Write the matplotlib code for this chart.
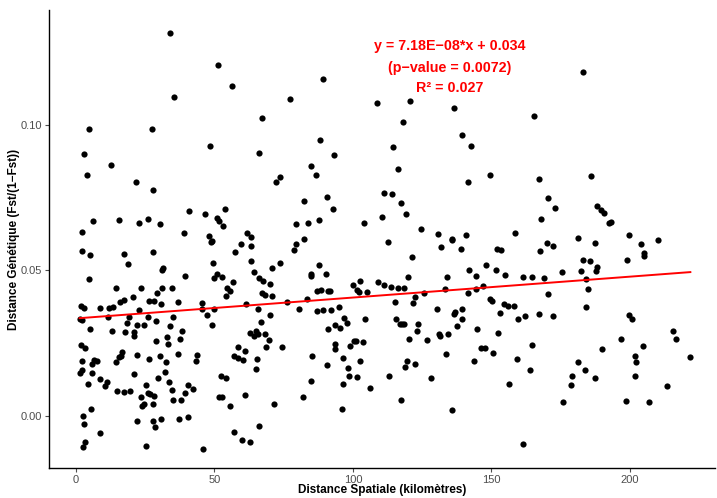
import matplotlib
matplotlib.use("Agg")
import matplotlib.pyplot as plt
import numpy as np

plt.rcParams['font.family'] = ['Liberation Sans', 'DejaVu Sans']

# Points (distance km, genetic distance) grouped by distance band
pts_a = [
    (33.9, 0.1315), (35.4, 0.1097), (4.8, 0.0986), (27.5, 0.0986), (48.3, 0.0926), (2.8, 0.0899),
    (12.5, 0.0861), (3.9, 0.0828), (21.7, 0.0805), (27.7, 0.0776), (40.7, 0.0703), (46.6, 0.0695),
    (6.0, 0.0670), (15.5, 0.0674), (22.6, 0.0662), (26.1, 0.0678), (30.3, 0.0661), (2.2, 0.0633),
    (39.0, 0.0630), (48.1, 0.0620), (48.6, 0.0596), (49.1, 0.0601), (2.3, 0.0566), (5.1, 0.0552),
    (17.4, 0.0556), (27.7, 0.0563), (18.9, 0.0522), (49.6, 0.0525), (30.9, 0.0502), (31.5, 0.0509),
    (39.2, 0.0480), (49.9, 0.0473), (4.8, 0.0472), (14.3, 0.0440), (23.5, 0.0441), (31.0, 0.0441),
    (34.8, 0.0441), (29.1, 0.0424), (15.9, 0.0393), (17.3, 0.0399), (20.6, 0.0408), (26.2, 0.0394),
    (28.0, 0.0394), (30.8, 0.0383), (36.7, 0.0393), (45.5, 0.0389), (1.7, 0.0378), (2.9, 0.0371),
    (8.7, 0.0371), (11.8, 0.0370), (13.5, 0.0376), (45.5, 0.0369), (49.8, 0.0369), (22.9, 0.0363),
    (11.4, 0.0341), (19.3, 0.0341), (25.9, 0.0339), (35.1, 0.0341), (47.4, 0.0347), (1.3, 0.0332),
    (2.1, 0.0328), (28.9, 0.0326), (18.4, 0.0320), (22.1, 0.0312), (24.7, 0.0314), (33.9, 0.0310),
    (49.2, 0.0312), (5.1, 0.0298), (13.1, 0.0291), (17.8, 0.0288), (20.8, 0.0288), (20.8, 0.0275),
    (38.4, 0.0291), (37.4, 0.0264), (32.7, 0.0270), (33.1, 0.0248), (29.0, 0.0259), (1.7, 0.0245),
    (3.1, 0.0234), (16.7, 0.0218), (16.1, 0.0206), (15.6, 0.0202), (22.0, 0.0209), (30.4, 0.0206),
    (36.7, 0.0212), (43.6, 0.0210), (43.2, 0.0190), (2.1, 0.0190), (6.6, 0.0192), (7.6, 0.0188),
    (5.8, 0.0178), (14.3, 0.0186), (26.4, 0.0196), (32.4, 0.0186), (1.3, 0.0149), (2.3, 0.0158),
    (5.9, 0.0147), (21.0, 0.0143), (32.0, 0.0152), (8.7, 0.0128), (11.1, 0.0118), (10.6, 0.0103),
    (4.3, 0.0109), (29.6, 0.0132), (33.7, 0.0115), (25.2, 0.0106), (40.4, 0.0107), (34.8, 0.0089),
    (42.3, 0.0093), (14.7, 0.0086), (17.2, 0.0082), (19.6, 0.0087), (26.0, 0.0078), (26.8, 0.0075),
    (28.2, 0.0068), (23.6, 0.0065), (39.2, 0.0078), (35.1, 0.0054), (37.9, 0.0055), (23.7, 0.0034),
    (24.4, 0.0040), (27.9, 0.0041), (5.4, 0.0025), (2.6, -0.0002), (3.0, -0.0029), (21.9, -0.0018),
    (27.8, -0.0017), (28.5, -0.0038), (30.7, -0.0011), (37.3, -0.0011), (40.5, -0.0003), (8.7, -0.0059),
    (3.1, -0.0089), (2.4, -0.0107), (25.4, -0.0104), (45.8, -0.0114),
]

pts_b = [
    (51.4, 0.1206), (56.3, 0.1135), (89.2, 0.1157), (77.3, 0.1089), (67.1, 0.1025), (66.0, 0.0905),
    (88.2, 0.0947), (93.0, 0.0895), (84.9, 0.0860), (86.6, 0.0828), (72.1, 0.0803), (73.8, 0.0821),
    (82.2, 0.0739), (90.5, 0.0751), (92.7, 0.0710), (53.8, 0.0712), (50.8, 0.0679), (51.8, 0.0670),
    (53.0, 0.0653), (79.3, 0.0661), (83.6, 0.0664), (87.8, 0.0674), (103.9, 0.0662), (61.6, 0.0628),
    (63.2, 0.0616), (82.3, 0.0607), (59.6, 0.0591), (63.2, 0.0584), (57.3, 0.0565), (78.7, 0.0570),
    (79.5, 0.0591), (63.1, 0.0533), (73.5, 0.0527), (70.9, 0.0510), (87.6, 0.0520), (64.4, 0.0496),
    (90.1, 0.0489), (84.9, 0.0489), (84.7, 0.0482), (51.0, 0.0486), (52.6, 0.0479), (56.7, 0.0460),
    (66.0, 0.0473), (67.4, 0.0462), (70.0, 0.0454), (100.0, 0.0450), (102.4, 0.0465), (101.4, 0.0433),
    (102.1, 0.0426), (104.9, 0.0426), (54.4, 0.0438), (55.6, 0.0430), (54.2, 0.0411), (67.1, 0.0422),
    (68.3, 0.0415), (70.6, 0.0411), (87.1, 0.0428), (88.3, 0.0432), (90.9, 0.0430), (91.6, 0.0430),
    (61.4, 0.0384), (76.2, 0.0392), (83.3, 0.0402), (65.6, 0.0368), (80.6, 0.0369), (87.1, 0.0360),
    (89.2, 0.0364), (91.9, 0.0364), (94.8, 0.0376), (70.1, 0.0347), (96.8, 0.0336), (98.0, 0.0320),
    (104.4, 0.0333), (66.9, 0.0322), (93.6, 0.0313), (95.2, 0.0303), (90.9, 0.0298), (62.9, 0.0285),
    (65.1, 0.0293), (64.2, 0.0273), (65.8, 0.0281), (68.2, 0.0282), (69.6, 0.0260), (68.5, 0.0236),
    (74.3, 0.0238), (58.6, 0.0236), (61.1, 0.0222), (56.9, 0.0206), (58.5, 0.0198), (60.3, 0.0192),
    (65.4, 0.0197), (64.9, 0.0160), (85.2, 0.0206), (93.6, 0.0247), (93.4, 0.0229), (99.0, 0.0241),
    (100.5, 0.0257), (101.0, 0.0258), (103.6, 0.0254), (96.3, 0.0198), (90.7, 0.0176), (102.6, 0.0190),
    (98.2, 0.0163), (98.6, 0.0137), (101.3, 0.0135), (52.3, 0.0137), (54.0, 0.0132), (84.8, 0.0121),
    (96.5, 0.0110), (106.0, 0.0095), (61.1, 0.0073), (51.5, 0.0064), (52.6, 0.0064), (82.1, 0.0064),
    (55.7, 0.0034), (71.5, 0.0042), (95.9, 0.0023), (66.1, -0.0035), (56.9, -0.0054), (60.0, -0.0082),
    (62.9, -0.0089),
]

pts_c = [
    (108.5, 0.1075), (120.5, 0.1082), (136.5, 0.1057), (165.5, 0.1032), (118.2, 0.1009), (139.5, 0.0966),
    (142.5, 0.0928), (114.6, 0.0923), (116.1, 0.0849), (149.6, 0.0827), (141.4, 0.0803), (111.1, 0.0767),
    (114.1, 0.0763), (117.3, 0.0733), (119.1, 0.0695), (110.4, 0.0682), (124.4, 0.0643), (130.8, 0.0625),
    (135.7, 0.0607), (140.9, 0.0621), (158.5, 0.0627), (112.7, 0.0597), (131.8, 0.0580), (135.9, 0.0605),
    (138.9, 0.0575), (151.9, 0.0573), (153.3, 0.0570), (121.4, 0.0545), (148.1, 0.0518), (141.9, 0.0503),
    (151.5, 0.0503), (119.7, 0.0479), (134.0, 0.0479), (144.5, 0.0481), (155.0, 0.0483), (161.5, 0.0478),
    (164.6, 0.0478), (108.9, 0.0459), (111.3, 0.0449), (113.6, 0.0443), (116.4, 0.0439), (118.3, 0.0440),
    (133.2, 0.0437), (144.4, 0.0435), (146.8, 0.0447), (125.5, 0.0423), (141.6, 0.0422), (115.3, 0.0391),
    (122.3, 0.0408), (121.6, 0.0387), (149.5, 0.0403), (150.1, 0.0396), (154.5, 0.0384), (156.1, 0.0378),
    (158.2, 0.0378), (130.3, 0.0368), (136.8, 0.0356), (136.6, 0.0351), (139.2, 0.0367), (153.1, 0.0353),
    (162.1, 0.0345), (159.5, 0.0332), (115.6, 0.0332), (117.0, 0.0317), (117.7, 0.0317), (118.5, 0.0317),
    (123.5, 0.0317), (139.5, 0.0334), (137.7, 0.0309), (123.1, 0.0291), (144.9, 0.0300), (152.3, 0.0286),
    (131.0, 0.0281), (131.4, 0.0273), (134.2, 0.0281), (120.1, 0.0264), (126.6, 0.0262), (164.6, 0.0243),
    (146.3, 0.0233), (147.7, 0.0233), (133.6, 0.0213), (150.5, 0.0216), (159.3, 0.0196), (119.5, 0.0190),
    (118.9, 0.0167), (122.4, 0.0179), (143.8, 0.0189), (164.0, 0.0157), (112.9, 0.0136), (128.3, 0.0132),
    (156.3, 0.0110), (117.3, 0.0053), (135.9, 0.0020), (161.3, -0.0097),
]

pts_d = [
    (183.0, 0.1182), (167.1, 0.0813), (186.0, 0.0826), (170.5, 0.0750), (172.8, 0.0715), (167.9, 0.0676),
    (188.2, 0.0722), (189.5, 0.0709), (190.7, 0.0698), (192.4, 0.0662), (193.3, 0.0667), (199.6, 0.0621),
    (181.2, 0.0613), (210.2, 0.0604), (169.9, 0.0593), (172.3, 0.0583), (167.4, 0.0567), (187.3, 0.0593),
    (204.0, 0.0590), (205.2, 0.0559), (205.1, 0.0551), (183.1, 0.0537), (185.6, 0.0532), (198.8, 0.0537),
    (188.1, 0.0513), (187.6, 0.0498), (175.3, 0.0496), (182.3, 0.0497), (168.9, 0.0473), (184.2, 0.0470),
    (184.9, 0.0435), (170.4, 0.0420), (184.2, 0.0374), (167.3, 0.0351), (172.3, 0.0343), (199.8, 0.0346),
    (200.6, 0.0333), (215.4, 0.0291), (216.5, 0.0265), (196.9, 0.0266), (189.9, 0.0230), (204.7, 0.0240),
    (221.8, 0.0204), (201.9, 0.0205), (202.0, 0.0186), (181.2, 0.0185), (183.8, 0.0158), (179.2, 0.0137),
    (187.4, 0.0130), (201.7, 0.0136), (178.6, 0.0107), (213.4, 0.0103), (175.9, 0.0047), (198.7, 0.0052),
    (207.0, 0.0048),
]

# Regression (x in km; equation in the chart is per metre)
fit_intercept = 0.0335
fit_slope_per_m = 7.18e-08
eq_lines = ["y = 7.18E\u221208*x + 0.034", "(p\u2212value = 0.0072)", "R\u00b2 = 0.027"]

x_ticks = [0, 50, 100, 150, 200]
y_ticks = [0.00, 0.05, 0.10]
y_tick_labels = ["0.00", "0.05", "0.10"]

pts = np.array(pts_a + pts_b + pts_c + pts_d)
xs, ys = pts[:, 0], pts[:, 1]

W, H = 717, 498
fig = plt.figure(figsize=(W / 100, H / 100), dpi=100)
ax = fig.add_axes([49 / W, 30 / H, 666 / W, 458 / H])

ax.scatter(xs, ys, s=20, color='black', linewidths=0, zorder=2)

xl = np.array([xs.min(), xs.max()])
ax.plot(xl, fit_intercept + fit_slope_per_m * 1000 * xl, color='red', lw=1.4, zorder=3)

ax.set_xlim(-9.75, 230.7)
ax.set_ylim(-0.0179, 0.1395)

ax.set_xticks(x_ticks)
ax.set_yticks(y_ticks)
ax.set_yticklabels(y_tick_labels)
ax.tick_params(axis='both', colors='#4d4d4d', labelcolor='#4d4d4d', labelsize=8, length=3, width=0.8, pad=2)

for side in ['top', 'right']:
    ax.spines[side].set_visible(False)
for side in ['left', 'bottom']:
    ax.spines[side].set_color('black')
    ax.spines[side].set_linewidth(1.0)

ax.set_xlabel("Distance Spatiale (kilom\u00e8tres)", fontsize=8.5, fontweight='bold')
ax.set_ylabel("Distance G\u00e9n\u00e9tique (Fst/(1\u2212Fst))", fontsize=8.5, fontweight='bold',
              va='center', ha='center')
ax.xaxis.set_label_coords(0.5, -0.036)
ax.yaxis.set_label_coords(-0.053, 0.5)

eq_y = [0.1271, 0.1196, 0.1127]
for txt, yy in zip(eq_lines, eq_y):
    ax.text(135.0, yy, txt, color='red', fontsize=10.3, fontweight='bold', ha='center', va='center')

fig.savefig("out.png", dpi=100)
